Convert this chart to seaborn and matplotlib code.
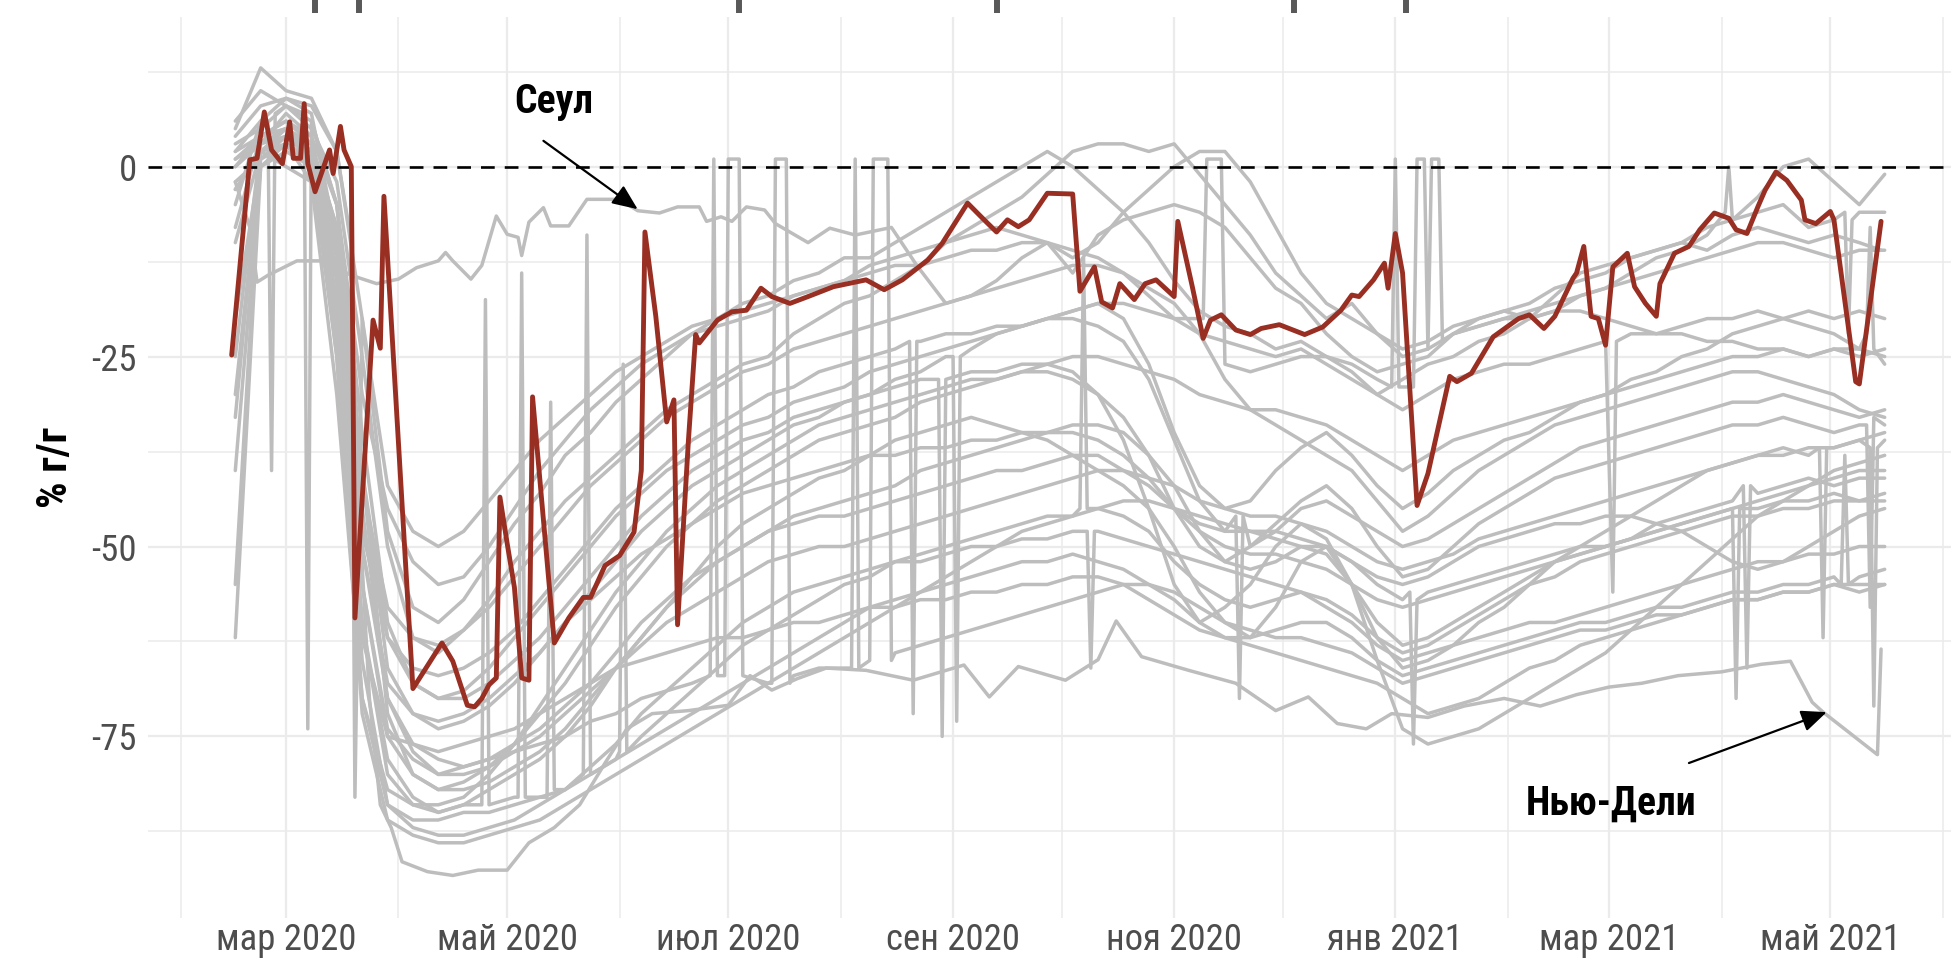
import pandas as pd
import matplotlib
matplotlib.use("Agg")
import matplotlib.pyplot as plt
import matplotlib.transforms as mtransforms
import seaborn as sns

# ---------------- DATA ----------------
# weekly observation dates shared by most gray series
week_dates = pd.date_range("2020-02-16", "2021-05-16", freq="7D")

city_01 = [5, 13, 10, 9, 2, -20, -48, -58, -60, -57,
           -52, -47, -43, -38, -35, -31, -28, -25, -22, -20,
           -18, -17, -15, -14, -12, -12, -10, -8, -6, -4,
           -2, 0, 2, 0, -3, -6, -10, -15, -19, -21,
           -22, -24, -23, -25, -27, -30, -28, -26, -25, -23,
           -22, -20, -19, -17, -16, -14, -12, -11, -9, -7,
           -4, 0, 1, -2, -5, -1]
city_02 = [2, 6, 8, 5, -2, -25, -50, -62, -64, -61,
           -57, -52, -48, -44, -41, -38, -35, -32, -30, -28,
           -26, -25, -22, -20, -18, -17, -15, -13, -10, -8,
           -6, -4, -1, 2, 3, 3, 2, 3, -1, -5,
           -9, -14, -17, -20, -18, -22, -24, -23, -21, -20,
           -19, -18, -16, -15, -14, -12, -11, -10, -8, -7,
           -6, -5, -8, -7, -6, -6]
city_03 = [0, 4, 6, 3, -8, -40, -66, -72, -74, -73,
           -71, -68, -64, -60, -56, -52, -48, -45, -42, -40,
           -38, -36, -34, -33, -31, -30, -28, -27, -25, -24,
           -22, -21, -20, -19, -18, -20, -26, -35, -42, -45,
           -44, -40, -37, -35, -38, -42, -45, -43, -40, -38,
           -36, -35, -33, -31, -30, -28, -27, -25, -24, -22,
           -21, -20, -19, -20, -19, -20]
city_04 = [-10, 2, 3, 1, -15, -55, -75, -80, -82, -81,
           -79, -76, -72, -68, -63, -58, -54, -50, -47, -44,
           -42, -40, -38, -36, -35, -34, -33, -31, -30, -29,
           -28, -27, -26, -27, -30, -36, -45, -55, -60, -58,
           -55, -50, -47, -49, -55, -62, -66, -65, -63, -60,
           -58, -55, -52, -50, -48, -46, -44, -42, -40, -39,
           -38, -37, -38, -37, -36, -35]
city_05 = [-30, 1, 4, 2, -12, -50, -70, -76, -78, -79,
           -78, -76, -74, -71, -68, -64, -60, -57, -54, -52,
           -50, -48, -47, -46, -46, -45, -44, -43, -42, -41,
           -40, -40, -39, -38, -38, -40, -42, -45, -47, -48,
           -48, -49, -50, -50, -52, -55, -57, -56, -55, -54,
           -53, -52, -51, -50, -50, -49, -48, -47, -46, -45,
           -44, -43, -42, -41, -40, -40]
city_06 = [-62, 0, 3, 0, -18, -60, -78, -83, -85, -84,
           -82, -80, -78, -75, -71, -66, -62, -58, -55, -52,
           -50, -48, -46, -45, -44, -43, -42, -40, -39, -38,
           -37, -36, -35, -34, -34, -35, -38, -42, -48, -52,
           -53, -52, -50, -51, -55, -60, -63, -62, -60, -58,
           -56, -54, -52, -51, -50, -49, -47, -46, -45, -44,
           -43, -42, -41, -42, -41, -41]
city_07 = [-55, 2, 5, 3, -20, -65, -84, -87, -88, -88,
           -87, -86, -84, -82, -79, -76, -72, -69, -66, -63,
           -60, -58, -56, -55, -54, -53, -52, -52, -51, -50,
           -50, -49, -49, -48, -48, -49, -50, -51, -52, -53,
           -54, -55, -56, -58, -60, -63, -65, -64, -63, -62,
           -61, -60, -60, -59, -58, -57, -56, -55, -54, -53,
           -52, -52, -51, -51, -50, -50]
city_08 = [-40, 0, 2, 0, -25, -70, -84, -86, -86, -85,
           -85, -84, -83, -82, -80, -78, -76, -74, -72, -70,
           -68, -66, -64, -62, -60, -58, -57, -56, -55, -54,
           -53, -52, -52, -51, -52, -53, -55, -57, -60, -62,
           -63, -64, -65, -66, -67, -68, -70, -72, -71, -70,
           -68, -66, -65, -63, -62, -61, -60, -59, -58, -57,
           -57, -56, -56, -55, -56, -55]
city_09 = [-25, 3, 7, 4, -5, -35, -60, -68, -70, -70,
           -68, -65, -62, -58, -54, -50, -46, -43, -40, -38,
           -36, -35, -33, -32, -31, -30, -29, -28, -28, -27,
           -27, -26, -26, -25, -25, -26, -27, -28, -30, -31,
           -32, -32, -33, -34, -36, -38, -40, -38, -36, -35,
           -34, -33, -32, -31, -30, -29, -28, -27, -26, -25,
           -25, -24, -25, -24, -24, -25]
city_10 = [-5, 6, 9, 7, -10, -45, -70, -77, -80, -80,
           -79, -77, -75, -72, -69, -66, -63, -60, -58, -56,
           -54, -52, -51, -50, -50, -49, -48, -47, -46, -45,
           -44, -43, -42, -41, -40, -40, -41, -42, -44, -45,
           -46, -46, -47, -48, -50, -52, -53, -52, -51, -49,
           -48, -47, -46, -45, -44, -43, -42, -41, -40, -39,
           -38, -38, -37, -37, -36, -36]
city_11 = [3, 5, 8, 6, -5, -40, -72, -80, -82, -82,
           -81, -79, -77, -74, -70, -66, -62, -58, -54, -50,
           -47, -45, -43, -41, -40, -38, -36, -35, -34, -33,
           -34, -35, -36, -38, -40, -42, -45, -50, -56, -60,
           -62, -58, -52, -50, -55, -65, -74, -76, -75, -74,
           -72, -70, -68, -66, -64, -61, -58, -55, -52, -49,
           -46, -44, -42, -40, -39, -38]
city_12 = [4, 8, 9, 8, 2, -20, -42, -48, -50, -48,
           -44, -40, -36, -33, -30, -27, -25, -23, -21, -20,
           -19, -18, -17, -16, -15, -14, -13, -13, -12, -11,
           -11, -10, -10, -11, -12, -14, -17, -20, -22, -23,
           -24, -25, -24, -26, -28, -30, -32, -30, -28, -27,
           -26, -26, -25, -24, -23, -22, -22, -21, -20, -20,
           -19, -20, -21, -22, -24, -26]
city_13 = [1, 4, 5, 2, -12, -48, -62, -66, -67, -66,
           -64, -61, -57, -53, -49, -45, -42, -39, -36, -34,
           -32, -30, -29, -27, -26, -25, -24, -23, -22, -22,
           -21, -21, -20, -20, -21, -23, -28, -36, -44, -48,
           -50, -48, -45, -44, -46, -48, -50, -49, -47, -45,
           -43, -41, -39, -37, -36, -35, -34, -33, -32, -31,
           -31, -30, -31, -32, -33, -32]
city_14 = [-2, 1, 3, 1, -22, -62, -75, -76, -77, -76,
           -75, -74, -72, -70, -68, -66, -65, -64, -63, -62,
           -62, -61, -60, -60, -59, -58, -58, -57, -57, -56,
           -56, -55, -55, -54, -54, -55, -57, -59, -61, -62,
           -62, -61, -60, -60, -62, -65, -67, -66, -65, -64,
           -63, -62, -61, -60, -60, -59, -58, -58, -57, -56,
           -56, -55, -55, -54, -54, -53]
city_15 = [6, 10, 8, 6, -5, -30, -45, -52, -55, -54,
           -50, -45, -40, -36, -32, -29, -26, -24, -22, -21,
           -20, -19, -17, -16, -15, -13, -12, -11, -10, -9,
           -8, -9, -10, -12, -10, -6, -3, 0, 2, 2,
           -2, -8, -14, -18, -20, -22, -25, -24, -22, -21,
           -20, -19, -18, -17, -16, -15, -14, -13, -12, -11,
           -10, -10, -11, -12, -11, -11]
city_16 = [2, 4, 6, 4, -18, -60, -80, -84, -84, -83,
           -80, -76, -71, -66, -61, -56, -52, -48, -45, -42,
           -40, -38, -36, -34, -33, -32, -31, -30, -29, -28,
           -28, -27, -27, -28, -30, -33, -38, -45, -50, -52,
           -50, -47, -44, -42, -45, -50, -54, -53, -50, -47,
           -45, -43, -41, -40, -39, -38, -37, -36, -35, -34,
           -34, -33, -34, -35, -34, -34]
city_17 = [-33, 2, 4, 1, -14, -50, -68, -72, -73, -72,
           -70, -67, -64, -60, -57, -54, -51, -49, -47, -45,
           -43, -42, -41, -40, -39, -38, -38, -37, -37, -36,
           -36, -35, -35, -35, -36, -38, -41, -45, -48, -50,
           -51, -51, -52, -53, -55, -57, -58, -57, -56, -55,
           -54, -53, -52, -51, -50, -49, -48, -47, -46, -45,
           -45, -44, -44, -43, -44, -44]
city_18 = [1, 3, 5, 2, -15, -55, -74, -78, -80, -79,
           -78, -77, -76, -75, -73, -72, -70, -69, -68, -67,
           -67, -68, -67, -66, -66, -65, -64, -63, -62, -61,
           -60, -59, -58, -57, -56, -55, -55, -56, -58, -60,
           -61, -62, -62, -63, -64, -66, -68, -67, -66, -65,
           -64, -63, -62, -61, -61, -60, -59, -59, -58, -57,
           -57, -56, -56, -55, -55, -55]
city_19 = [-3, 2, 4, 3, -8, -40, -62, -68, -70, -69,
           -66, -62, -58, -54, -50, -46, -43, -40, -38, -36,
           -34, -33, -31, -30, -29, -27, -26, -25, -24, -23,
           -22, -21, -20, -19, -18, -18, -19, -20, -20, -26,
           -27, -26, -25, -25, -26, -28, -29, -24, -22, -21,
           -20, -20, -19, -19, -20, -21, -22, -22, -23, -23,
           -24, -24, -25, -24, -25, -24]
city_20 = [-20, 1, 3, -2, -30, -70, -82, -84, -85, -84,
           -84, -83, -83, -82, -80, -78, -75, -72, -69, -66,
           -63, -61, -59, -57, -55, -54, -52, -51, -50, -49,
           -48, -47, -46, -46, -45, -46, -48, -52, -55, -57,
           -58, -57, -56, -57, -59, -62, -64, -63, -61, -59,
           -57, -55, -54, -52, -51, -50, -49, -48, -47, -46,
           -46, -45, -45, -44, -44, -43]
city_21 = [0, 3, 4, 2, -25, -72, -86, -88, -89, -89,
           -88, -87, -86, -84, -82, -80, -78, -76, -74, -72,
           -70, -68, -66, -64, -62, -60, -58, -56, -54, -52,
           -50, -48, -47, -46, -45, -44, -44, -45, -46, -47,
           -48, -48, -49, -50, -52, -54, -55, -54, -52, -50,
           -49, -48, -47, -47, -46, -46, -47, -48, -50, -52,
           -53, -52, -50, -48, -46, -45]
city_22 = [-8, 4, 5, 3, -10, -42, -58, -62, -63, -61,
           -58, -54, -50, -46, -42, -39, -36, -33, -31, -29,
           -27, -26, -24, -23, -22, -21, -20, -19, -18, -17,
           -16, -15, -14, -13, -13, -14, -16, -18, -22, -28,
           -32, -34, -36, -38, -40, -44, -48, -46, -43, -40,
           -38, -36, -34, -33, -32, -31, -30, -29, -28, -27,
           -27, -28, -29, -30, -32, -33]

# one-day glitches / spikes on some of the weekly series
spike_city = ["city_18"] * 15 + ["city_19"] * 12 + ["city_20"] * 13 + [
    "city_09", "city_09", "city_13", "city_13", "city_13", "city_13", "city_13", "city_13",
    "city_03", "city_03", "city_03", "city_12", "city_12", "city_17", "city_17",
    "city_10", "city_10", "city_10", "city_15", "city_15", "city_01", "city_01",
    "city_02", "city_02", "city_02",
    "city_01", "city_01", "city_02", "city_02", "city_02", "city_12", "city_12", "city_12",
    "city_04", "city_04", "city_04", "city_06", "city_06", "city_06", "city_14", "city_14",
    "city_14", "city_16", "city_16", "city_16", "city_21", "city_21", "city_21",
    "city_07", "city_07", "city_07", "city_05", "city_05", "city_05"]
spike_dates = [
    "2020-06-26", "2020-06-27", "2020-06-30", "2020-07-01", "2020-07-04", "2020-07-13", "2020-07-14",
    "2020-07-17", "2020-07-18", "2020-08-04", "2020-08-05", "2020-08-06", "2020-08-10", "2020-08-14",
    "2020-08-15",
    "2020-11-09", "2020-11-10", "2020-11-14", "2020-12-31", "2021-01-01", "2021-01-02", "2021-01-06",
    "2021-01-07", "2021-01-09", "2021-01-11", "2021-01-13", "2021-01-14",
    "2020-04-24", "2020-04-25", "2020-05-04", "2020-05-05", "2020-05-06", "2020-05-12", "2020-05-13",
    "2020-05-14", "2020-05-22", "2020-05-23", "2020-06-01", "2020-06-02", "2020-06-03",
    "2020-08-28", "2020-08-29", "2020-08-20", "2020-08-21", "2020-08-22", "2020-11-18", "2020-11-19",
    "2020-11-20", "2020-09-01", "2020-09-02", "2020-09-03", "2021-03-02", "2021-03-03", "2021-04-05",
    "2021-04-06", "2021-05-12", "2021-05-13", "2021-05-14", "2020-03-06", "2020-03-07", "2020-03-19",
    "2020-03-20", "2020-02-25", "2020-02-26", "2020-02-27",
    "2021-04-02", "2021-04-03", "2021-05-05", "2021-05-06", "2021-05-07", "2021-05-11", "2021-05-12",
    "2021-05-13", "2021-04-28", "2021-04-29", "2021-04-30", "2021-04-07", "2021-04-08", "2021-04-09",
    "2021-05-04", "2021-05-05", "2021-05-06", "2021-05-11", "2021-05-12", "2021-05-13",
    "2020-10-06", "2020-10-07", "2020-10-08", "2020-10-08", "2020-10-09", "2020-10-10",
    "2021-01-05", "2021-01-06", "2021-01-07"]
spike_vals = [
    -67, 1, -67, 1, 1, -68, 1, 1, -68, -66, 1, -66, 1, 1, -65,
    -20, 1, 1, -29, 1, -29, -29, 1, 1, 1, 1, -23,
    -84, -17.5, -83, -14, -83, -83, -31, -82, -80, -9, -77, -26, -77,
    -28, -75, -23, -72, -23, -46, -70, -46, -25, -73, -25, -56, -23, -70,
    -45, -37, -71, -37, 7, -74, -10, -83, 6, -40, 7,
    -6, 0, -6, -22, -7, -22, -8, -24, -37, -62, -37, -42, -66, -42,
    -55, -38, -55, -34, -58, -33, -45, -12, -45, -48, -66, -48,
    -56, -76, -57]

seoul_dates = [
    "2020-02-16", "2020-02-20", "2020-02-22", "2020-02-25", "2020-03-04", "2020-03-11", "2020-03-19",
    "2020-03-26", "2020-04-01", "2020-04-06", "2020-04-12", "2020-04-14", "2020-04-16", "2020-04-21",
    "2020-04-24", "2020-04-28", "2020-05-01", "2020-05-04", "2020-05-05", "2020-05-07", "2020-05-11",
    "2020-05-13", "2020-05-18", "2020-05-23", "2020-06-01", "2020-06-06", "2020-06-12", "2020-06-17",
    "2020-06-23", "2020-06-25", "2020-06-29", "2020-07-02", "2020-07-06", "2020-07-11", "2020-07-14",
    "2020-07-23", "2020-07-29", "2020-08-05", "2020-08-15", "2020-08-22", "2020-08-30", "2020-09-06",
    "2020-09-13", "2020-09-20", "2020-09-27", "2020-10-04", "2020-10-11", "2020-10-18", "2020-10-25",
    "2020-11-01", "2020-11-08", "2020-11-15", "2020-11-22", "2020-11-29", "2020-12-06", "2020-12-13",
    "2020-12-20", "2020-12-27", "2021-01-03", "2021-01-10", "2021-01-17", "2021-01-24", "2021-01-31",
    "2021-02-07", "2021-02-14", "2021-02-21", "2021-02-28", "2021-03-07", "2021-03-14", "2021-03-21",
    "2021-03-28", "2021-04-04", "2021-04-11", "2021-04-18", "2021-04-25", "2021-05-02", "2021-05-09",
    "2021-05-15"]
seoul_vals = [
    -2, -8, -15.2, -14.3, -12.4, -12.4, -14.3, -15.4, -14.8, -13.3, -12.4, -11.3, -12.4, -14.8,
    -13, -6.5, -8.9, -9.3, -11.7, -7.3, -5.4, -7.8, -7.8, -4.3, -4.3, -5.8, -6.1, -5.3,
    -5.3, -7.2, -6.6, -7.2, -5.3, -5.7, -7.5, -10, -8.1, -9, -8, -13, -18, -17,
    -15, -12, -10, -14, -9, -7, -6, -5, -6, -8, -12, -16, -18, -22,
    -25, -27, -26, -25, -22, -20, -19, -20, -17, -14, -13, -12, -11, -10,
    -11, -9, -8, -9, -10, -9, -10, -11]

delhi_dates = [
    "2020-02-16", "2020-02-23", "2020-03-01", "2020-03-08", "2020-03-15", "2020-03-20", "2020-03-24",
    "2020-03-27", "2020-03-30", "2020-04-02", "2020-04-09", "2020-04-16", "2020-04-23", "2020-05-01",
    "2020-05-07", "2020-05-14", "2020-05-21", "2020-05-28", "2020-06-03", "2020-06-10", "2020-06-20",
    "2020-07-01", "2020-07-07", "2020-07-13", "2020-07-20", "2020-07-28", "2020-08-08", "2020-08-21",
    "2020-09-04", "2020-09-11", "2020-09-19", "2020-10-02", "2020-10-11", "2020-10-16", "2020-10-23",
    "2020-11-05", "2020-11-18", "2020-11-29", "2020-12-08", "2020-12-16", "2020-12-24", "2020-12-31",
    "2021-01-10", "2021-01-20", "2021-01-31", "2021-02-10", "2021-02-20", "2021-03-01", "2021-03-10",
    "2021-03-20", "2021-04-01", "2021-04-12", "2021-04-20", "2021-04-26", "2021-04-29", "2021-05-14",
    "2021-05-15"]
delhi_vals = [
    -3, 2, 0, -2, -10, -35, -70, -84, -87, -91.5, -92.8, -93.3, -92.6, -92.6,
    -89, -87, -84, -78.5, -74, -72, -71.6, -70.9, -67, -68.9, -67.4, -66, -66.3, -67.6,
    -65.6, -69.8, -65.8, -67.6, -64.9, -59.8, -64.5, -66.3, -68, -71.6, -69.8, -73.3, -74, -72,
    -72.5, -71, -70, -71, -69.5, -68.5, -68, -67, -66.5, -65.5, -65.1, -70.5, -71.8, -77.4,
    -63.5]

# highlighted city (red)
red_dates = [
    "2020-02-15", "2020-02-20", "2020-02-22", "2020-02-24", "2020-02-26", "2020-02-29", "2020-03-02",
    "2020-03-03", "2020-03-05", "2020-03-06", "2020-03-07", "2020-03-09", "2020-03-13", "2020-03-14",
    "2020-03-16", "2020-03-17", "2020-03-19", "2020-03-20", "2020-03-25", "2020-03-27", "2020-03-28",
    "2020-04-05", "2020-04-13", "2020-04-16", "2020-04-20", "2020-04-22", "2020-04-24", "2020-04-26",
    "2020-04-28", "2020-04-29", "2020-05-01", "2020-05-03", "2020-05-05", "2020-05-07", "2020-05-08",
    "2020-05-14", "2020-05-18", "2020-05-22", "2020-05-24", "2020-05-28", "2020-06-01", "2020-06-05",
    "2020-06-07", "2020-06-08", "2020-06-11", "2020-06-14", "2020-06-16", "2020-06-17", "2020-06-20",
    "2020-06-22", "2020-06-23", "2020-06-28", "2020-07-02", "2020-07-06", "2020-07-10", "2020-07-13",
    "2020-07-18", "2020-07-23", "2020-07-30", "2020-08-08", "2020-08-13", "2020-08-18", "2020-08-25",
    "2020-08-29", "2020-09-05", "2020-09-10", "2020-09-13", "2020-09-16", "2020-09-19", "2020-09-22",
    "2020-09-27", "2020-10-04", "2020-10-06", "2020-10-10", "2020-10-12", "2020-10-15", "2020-10-17",
    "2020-10-21", "2020-10-24", "2020-10-27", "2020-11-01", "2020-11-02", "2020-11-06", "2020-11-09",
    "2020-11-11", "2020-11-14", "2020-11-18", "2020-11-22", "2020-11-25", "2020-11-30", "2020-12-07",
    "2020-12-12", "2020-12-17", "2020-12-20", "2020-12-22", "2020-12-26", "2020-12-29", "2020-12-30",
    "2021-01-01", "2021-01-03", "2021-01-07", "2021-01-10", "2021-01-16", "2021-01-18", "2021-01-22",
    "2021-01-28", "2021-02-04", "2021-02-07", "2021-02-11", "2021-02-14", "2021-02-19", "2021-02-20",
    "2021-02-22", "2021-02-24", "2021-02-26", "2021-02-28", "2021-03-02", "2021-03-06", "2021-03-08",
    "2021-03-11", "2021-03-14", "2021-03-15", "2021-03-19", "2021-03-23", "2021-03-26", "2021-03-30",
    "2021-04-03", "2021-04-05", "2021-04-08", "2021-04-11", "2021-04-13", "2021-04-16", "2021-04-19",
    "2021-04-23", "2021-04-24", "2021-04-27", "2021-05-01", "2021-05-02", "2021-05-08", "2021-05-09",
    "2021-05-15"]
red_vals = [
    -24.8, 0.9, 1.1, 7.2, 2.2, 0.4, 5.9, 1.1, 1.1, 8.3, 0.4, -3.3, 2.2, -0.9,
    5.3, 2.2, 0, -59.4, -20.2, -23.9, -3.9, -68.7, -62.7, -65.1, -70.9, -71.1, -70, -68.2,
    -67.3, -43.5, -49.6, -55.4, -67.3, -67.6, -30.3, -62.7, -59.4, -56.7, -56.7, -52.5, -51.2, -48.1,
    -40, -8.6, -19.7, -33.6, -30.7, -60.3, -36, -22.1, -23.2, -20.2, -19.1, -18.9, -16, -17.1,
    -18, -17.1, -15.8, -14.9, -16.2, -14.9, -12.3, -10.1, -4.8, -7.2, -8.6, -7, -7.9, -7,
    -3.5, -3.6, -16.4, -13.2, -17.8, -18.6, -15.4, -17.5, -15.4, -14.9, -17.1, -7.2, -15.8, -22.6,
    -20.2, -19.5, -21.5, -22.1, -21.3, -20.8, -22.1, -21.1, -18.9, -16.9, -17.1, -14.9, -12.7, -16,
    -8.8, -14, -44.6, -40.4, -27.6, -28.3, -27.2, -22.4, -20, -19.5, -21.3, -19.7, -14.7, -14,
    -10.5, -19.7, -20, -23.5, -13.2, -11.4, -15.8, -18, -19.7, -15.4, -11.4, -10.5, -8.3, -6.1,
    -6.8, -8.3, -8.8, -5.3, -3.1, -0.7, -1.8, -4.4, -7, -7.5, -5.9, -7, -28.3, -28.6,
    -7.2]

# event marks along the top edge
event_dates = ["2020-03-09", "2020-03-21", "2020-07-04", "2020-09-13", "2020-12-04", "2021-01-04"]

tick_dates = ["2020-03-01", "2020-05-01", "2020-07-01", "2020-09-01", "2020-11-01",
              "2021-01-01", "2021-03-01", "2021-05-01"]
tick_labels = ["мар 2020", "май 2020", "июл 2020", "сен 2020", "ноя 2020",
               "янв 2021", "мар 2021", "май 2021"]
minor_dates = ["2020-02-01", "2020-04-01", "2020-06-01", "2020-08-01", "2020-10-01",
               "2020-12-01", "2021-02-01", "2021-04-01", "2021-06-01"]
y_ticks = [0, -25, -50, -75]
y_minor = [12.5, -12.5, -37.5, -62.5, -87.5]

# ---------------- TABLE ----------------
weekly = {"city_01": city_01, "city_02": city_02, "city_03": city_03, "city_04": city_04,
          "city_05": city_05, "city_06": city_06, "city_07": city_07, "city_08": city_08,
          "city_09": city_09, "city_10": city_10, "city_11": city_11, "city_12": city_12,
          "city_13": city_13, "city_14": city_14, "city_15": city_15, "city_16": city_16,
          "city_17": city_17, "city_18": city_18, "city_19": city_19, "city_20": city_20,
          "city_21": city_21, "city_22": city_22}
parts = [pd.DataFrame({"city": k, "date": week_dates, "value": v}) for k, v in weekly.items()]
parts.append(pd.DataFrame({"city": spike_city, "date": pd.to_datetime(spike_dates), "value": spike_vals}))
parts.append(pd.DataFrame({"city": "Сеул", "date": pd.to_datetime(seoul_dates), "value": seoul_vals}))
parts.append(pd.DataFrame({"city": "Нью-Дели", "date": pd.to_datetime(delhi_dates), "value": delhi_vals}))
gray_df = pd.concat(parts).sort_values(["city", "date"]).reset_index(drop=True)
red_df = pd.DataFrame({"date": pd.to_datetime(red_dates), "value": red_vals})

# ---------------- PLOT ----------------
sns.set_theme(style="white")
plt.rcParams["font.family"] = ["Roboto Condensed", "DejaVu Sans"]

W, H = 1951, 965
fig = plt.figure(figsize=(W / 100, H / 100), dpi=100)
ax = fig.add_axes([148 / W, 1 - 918 / H, 1 - 148 / W, (918 - 17) / H])

sns.lineplot(data=gray_df, x="date", y="value", units="city", estimator=None,
             color="#bdbdbd", linewidth=2.5, ax=ax, zorder=2)
ax.axhline(0, color="black", linewidth=1.9, linestyle=(0, (5.2, 3.8)), zorder=3)
sns.lineplot(data=red_df, x="date", y="value", color="#992e22", linewidth=3.5, ax=ax, zorder=4)

ax.set_xlim(pd.Timestamp("2020-01-22 22:00"), pd.Timestamp("2021-06-03 07:00"))
ax.set_ylim(-98.9, 19.7)

ax.set_xticks(pd.to_datetime(tick_dates))
ax.set_xticklabels(tick_labels)
ax.set_xticks(pd.to_datetime(minor_dates), minor=True)
ax.set_yticks(y_ticks)
ax.set_yticklabels([str(v) for v in y_ticks])
ax.set_yticks(y_minor, minor=True)
ax.tick_params(which="both", length=0, labelsize=26.5, labelcolor="#4d4d4d")
ax.tick_params(axis="x", pad=3)
ax.tick_params(axis="y", pad=8)
ax.grid(which="major", color="#ebebeb", linewidth=1.6)
ax.grid(which="minor", color="#ebebeb", linewidth=1.1)
ax.set_axisbelow(True)
for s in ax.spines.values():
    s.set_visible(False)

ax.set_xlabel("")
ax.set_ylabel("% г/г", fontsize=30, fontweight="bold", color="black")
ax.yaxis.set_label_coords(-0.040, 0.5)

# annotations
arrow_props = dict(arrowstyle="-|>,head_length=0.7,head_width=0.3", color="black",
                   lw=1.6, mutation_scale=22, shrinkA=0, shrinkB=0)
ax.annotate("", xy=(pd.Timestamp("2020-06-06"), -5.6), xytext=(pd.Timestamp("2020-05-11"), 3.4),
            arrowprops=arrow_props, zorder=5)
ax.text(pd.Timestamp("2020-05-13 21:00"), 8.5, "Сеул", fontsize=28.5, fontweight="bold",
        ha="center", va="center", color="black", zorder=5)
ax.annotate("", xy=(pd.Timestamp("2021-04-30"), -71.8), xytext=(pd.Timestamp("2021-03-23"), -78.5),
            arrowprops=arrow_props, zorder=5)
ax.text(pd.Timestamp("2021-03-01 12:00"), -83.8, "Нью-Дели", fontsize=28.5, fontweight="bold",
        ha="center", va="center", color="black", zorder=5)

# event marks above the panel
trans = mtransforms.blended_transform_factory(ax.transData, ax.transAxes)
ax.vlines(pd.to_datetime(event_dates), 1.0044, 1.03, transform=trans, colors="#595959",
          linewidth=4.3, clip_on=False)

fig.savefig("out.png", dpi=100)
